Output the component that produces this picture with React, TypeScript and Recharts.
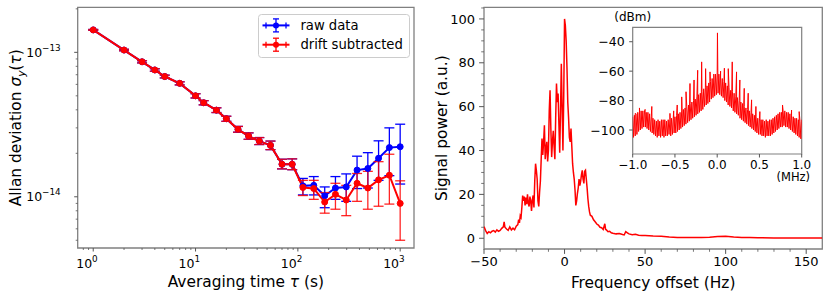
import React from 'react';
import { LineChart, Line, XAxis, YAxis, ErrorBar, ReferenceArea, CartesianGrid, Legend, Label } from 'recharts';

const FONT = '"DejaVu Sans", sans-serif';
const BLUE = '#0000ff';
const RED = '#ff0000';
const SPINE = '#808080';
const TICK = '#555555';

// ---------- Left panel: Allan deviation ----------
const tau = [1, 2, 3, 4, 5, 7, 10, 12, 16, 20, 26, 33, 42, 54, 70, 88, 112, 143, 183, 233, 297, 379, 483, 615, 784, 1000];
const rawAdev = [1.43e-13, 1.037e-13, 8.6e-14, 7.55e-14, 6.8e-14, 6.1e-14, 5.0e-14, 4.48e-14, 3.98e-14, 3.47e-14, 2.93e-14, 2.63e-14, 2.43e-14, 2.27e-14, 1.68e-14, 1.68e-14, 1.19e-14, 1.2e-14, 1.016e-14, 1.15e-14, 1.17e-14, 1.53e-14, 1.57e-14, 1.85e-14, 2.19e-14, 2.22e-14];
const rawLo = [1.42e-13, 1.025e-13, 8.45e-14, 7.4e-14, 6.65e-14, 5.95e-14, 4.83e-14, 4.33e-14, 3.83e-14, 3.33e-14, 2.8e-14, 2.5e-14, 2.3e-14, 2.12e-14, 1.56e-14, 1.54e-14, 1.03e-14, 1.03e-14, 8.4e-15, 9.6e-15, 9.3e-15, 1.14e-14, 1.15e-14, 1.3e-14, 1.4e-14, 1.225e-14];
const rawHi = [1.44e-13, 1.05e-13, 8.75e-14, 7.7e-14, 6.95e-14, 6.25e-14, 5.17e-14, 4.63e-14, 4.13e-14, 3.61e-14, 3.07e-14, 2.77e-14, 2.57e-14, 2.43e-14, 1.82e-14, 1.83e-14, 1.34e-14, 1.38e-14, 1.17e-14, 1.38e-14, 1.44e-14, 1.91e-14, 2.02e-14, 2.44e-14, 3.0e-14, 3.18e-14];
const driftAdev = [1.43e-13, 1.037e-13, 8.6e-14, 7.55e-14, 6.8e-14, 6.1e-14, 5.0e-14, 4.48e-14, 3.98e-14, 3.47e-14, 2.93e-14, 2.63e-14, 2.43e-14, 2.27e-14, 1.68e-14, 1.68e-14, 1.16e-14, 1.14e-14, 9.2e-15, 1.04e-14, 9.5e-15, 1.24e-14, 1.15e-14, 1.31e-14, 1.41e-14, 9.0e-15];
const driftLo = [1.42e-13, 1.025e-13, 8.45e-14, 7.4e-14, 6.65e-14, 5.95e-14, 4.83e-14, 4.33e-14, 3.83e-14, 3.33e-14, 2.8e-14, 2.5e-14, 2.3e-14, 2.12e-14, 1.56e-14, 1.54e-14, 1.02e-14, 9.6e-15, 7.7e-15, 8.2e-15, 7.4e-15, 9.3e-15, 8.2e-15, 8.6e-15, 8.9e-15, 5.0e-15];
const driftHi = [1.44e-13, 1.05e-13, 8.75e-14, 7.7e-14, 6.95e-14, 6.25e-14, 5.17e-14, 4.63e-14, 4.13e-14, 3.61e-14, 3.07e-14, 2.77e-14, 2.57e-14, 2.43e-14, 1.82e-14, 1.83e-14, 1.3e-14, 1.3e-14, 1.07e-14, 1.24e-14, 1.2e-14, 1.45e-14, 1.5e-14, 1.75e-14, 1.97e-14, 1.29e-14];

const allanX = [0.705, 1365];
const allanY = [4.42e-15, 2.05e-13];
const allanXTicks = [0.8, 0.9, 1, 2, 3, 4, 5, 6, 7, 8, 9, 10, 20, 30, 40, 50, 60, 70, 80, 90, 100, 200, 300, 400, 500, 600, 700, 800, 900, 1000];
const allanYTicks = [5e-15, 6e-15, 7e-15, 8e-15, 9e-15, 1e-14, 2e-14, 3e-14, 4e-14, 5e-14, 6e-14, 7e-14, 8e-14, 9e-14, 1e-13, 2e-13];
const legendLabels = ['raw data', 'drift subtracted'];

const allanData = tau.map((t, i) => ({
  tau: t,
  raw: rawAdev[i],
  rawErr: [rawAdev[i] - rawLo[i], rawHi[i] - rawAdev[i]],
  drift: driftAdev[i],
  driftErr: [driftAdev[i] - driftLo[i], driftHi[i] - driftAdev[i]],
}));

// ---------- Right panel: beat note spectrum ----------
const specFreq = [-50, -49, -48, -47, -46, -45, -44, -43, -42, -41, -40, -39, -38, -37.5, -37, -36, -35, -34, -33, -32, -31, -30, -29, -28.5, -28, -27.5, -27, -26.5, -26, -25.5, -25, -24.5, -24, -23.5, -23, -22.5, -22, -21.5, -21, -20.5, -20, -19.5, -19, -18.5, -18, -17.5, -17, -16.5, -16, -15.5, -15, -14.5, -14, -13.5, -13, -12.5, -12, -11.5, -11, -10.5, -10, -9.5, -9, -8.5, -8, -7.5, -7, -6.5, -6, -5.5, -5, -4.5, -4, -3.5, -3, -2.5, -2, -1.5, -1, -0.5, 0, 0.5, 1, 1.5, 2, 2.5, 3, 3.5, 4, 4.5, 5, 5.5, 6, 6.5, 7, 7.5, 8, 8.5, 9, 9.5, 10, 10.5, 11, 11.5, 12, 12.5, 13, 13.5, 14, 14.5, 15, 15.5, 16, 17, 18, 19, 20, 21, 22, 23, 24, 25, 25.5, 26, 27, 28, 29, 30, 32, 34, 36, 37, 38, 39, 40, 42, 44, 46, 48, 50, 55, 60, 65, 70, 75, 80, 85, 90, 95, 100, 105, 110, 115, 120, 130, 140, 150, 160];
const specPower = [5.3, 3.5, 2.2, 3.0, 2.5, 3.2, 3.5, 2.8, 3.8, 3.2, 3.6, 4.5, 5.2, 7.5, 5, 4.2, 3.6, 5.2, 3.8, 4.6, 3.9, 5.5, 6.2, 8.5, 7, 10.3, 9.5, 14, 19.5, 17, 19, 15, 18.5, 15.5, 20, 16, 14.5, 19, 17, 12.5, 17.5, 19.5, 14, 26, 34, 31, 27, 17, 14.5, 21, 26, 36, 45.5, 38, 44, 51.5, 36, 41, 44, 35, 40, 58, 67.5, 50, 37, 44, 49, 42, 36, 55, 70.5, 62, 66, 52, 39, 58, 79.5, 60, 40, 65, 100, 97, 90, 78, 62, 55, 46, 44, 50, 42, 34, 30, 27, 22, 15, 17, 20.5, 23, 27, 24, 26, 29, 31, 27, 25, 30.5, 31, 27, 23, 18, 14.5, 12, 10.5, 10, 8.4, 7.5, 6.5, 6, 5, 4.8, 4, 6.6, 4, 3.8, 3, 3.2, 2.5, 2.3, 2, 2.2, 1.7, 1.5, 3, 2.5, 2, 1.6, 1.8, 1.4, 1.3, 1.2, 1.0, 0.9, 0.6, 0.4, 0.3, 0.4, 0.3, 0.5, 0.8, 0.9, 0.6, 0.4, 0.3, 0.2, 0.15, 0.1, 0.1, 0.1];
const specX = [-50, 160];
const specY = [-4.9, 105.3];
const specXTicks = [-50, -40, -30, -20, -10, 0, 10, 20, 30, 40, 50, 60, 70, 80, 90, 100, 110, 120, 130, 140, 150];
const specXMajor = [-50, 0, 50, 100, 150];
const specYTicks = [0, 5, 10, 15, 20, 25, 30, 35, 40, 45, 50, 55, 60, 65, 70, 75, 80, 85, 90, 95, 100, 105];
const specYMajor = [0, 20, 40, 60, 80, 100];
const specData = specFreq.map((f, i) => ({ f, p: specPower[i] }));

// ---------- Inset: wide span spectrum (dBm vs MHz) ----------
// upper edge of the noise band at -1.00, -0.98, ..., 1.00 MHz
const insetHigh = [
  -91, -90, -89, -88, -88, -87, -87, -87, -88, -88,
  -89, -91, -92, -93, -94, -93, -94, -93, -93, -93,
  -94, -93, -93, -92, -92, -91, -90, -89, -88, -87,
  -86, -85, -84, -83, -82, -81, -80, -79, -77, -76,
  -75, -74, -72, -71, -70, -68, -67, -65, -64, -62,
  -61, -62, -64, -65, -67, -68, -70, -71, -73, -74,
  -75, -77, -78, -80, -81, -82, -84, -85, -86, -87,
  -88, -89, -90, -91, -92, -92, -93, -93, -94, -93,
  -94, -93, -93, -92, -91, -90, -89, -88, -88, -87,
  -87, -88, -88, -89, -90, -91, -92, -92, -93, -94,
  -93,
];
// lower edge of the noise band at -0.99, -0.97, ..., 0.99 MHz
const insetLow = [
  -105, -104, -103, -101, -100, -99, -98, -98, -99, -100,
  -101, -102, -103, -104, -105, -104, -105, -104, -105, -104,
  -104, -103, -104, -103, -102, -102, -101, -100, -99, -98,
  -97, -96, -95, -94, -93, -92, -91, -90, -89, -88,
  -87, -86, -84, -83, -82, -81, -79, -78, -77, -76,
  -75, -76, -77, -78, -80, -81, -83, -84, -85, -87,
  -88, -89, -90, -92, -93, -94, -95, -96, -97, -98,
  -99, -100, -101, -102, -103, -103, -104, -104, -105, -104,
  -104, -104, -103, -102, -101, -100, -99, -98, -98, -97,
  -98, -98, -99, -100, -101, -102, -103, -104, -105, -106,
];
const spikeFreq = [-0.97, -0.92, -0.853, -0.774, -0.559, -0.515, -0.473, -0.42, -0.369, -0.322, -0.274, -0.231, -0.184, -0.137, -0.085, -0.04, 0.003, 0.04, 0.085, 0.131, 0.178, 0.229, 0.268, 0.32, 0.367, 0.407, 0.458, 0.505, 0.773, 0.88, 0.97];
const spikePeak = [-88.7, -85, -86, -84, -88.7, -87, -83, -77.5, -74, -68.4, -66, -59.4, -53.7, -58.3, -60.5, -62, -34, -60, -58, -58.3, -53.7, -60.5, -66, -71.7, -75, -79.5, -84, -87.5, -83, -86.4, -87.5];
const insetX = [-1, 1];
const insetY = [-116.3, -30.2];
const insetXTicks = [-1, -0.5, 0, 0.5, 1];
const insetYTicks = [-100, -80, -60, -40];

const insetData: { f: number; p: number }[] = [];
insetHigh.forEach((h, i) => {
  const f = -1 + i * 0.02;
  insetData.push({ f, p: h });
  if (i < insetLow.length) insetData.push({ f: f + 0.01, p: insetLow[i] });
});
spikeFreq.forEach((f, i) => insetData.push({ f, p: spikePeak[i] }));
insetData.sort((a, b) => a.f - b.f);

// ---------- tick renderers ----------
const fmtNum = (v: number, digits = 0) => {
  const s = Math.abs(v).toFixed(digits);
  return v < 0 ? '\u2212' + s : s;
};

const isDecade = (v: number) => {
  const lg = Math.log10(v);
  return Math.abs(lg - Math.round(lg)) < 1e-6;
};

const LogTickX = (props: any) => {
  const { x, y, payload } = props;
  const v = payload.value as number;
  const major = isDecade(v);
  const e = Math.round(Math.log10(v));
  return (
    <g>
      <line x1={x} y1={y} x2={x} y2={y + (major ? 3.5 : 2)} stroke={TICK} strokeWidth={major ? 1 : 0.8} />
      {major && (
        <text x={x + 4.5} y={y + 19.7} textAnchor="end" fontFamily={FONT} fontSize={12.5} fill="#000">
          10<tspan dy={-5.5} fontSize={8.8}>{fmtNum(e)}</tspan>
        </text>
      )}
    </g>
  );
};

const LogTickY = (props: any) => {
  const { x, y, payload } = props;
  const v = payload.value as number;
  const major = isDecade(v);
  const e = Math.round(Math.log10(v));
  return (
    <g>
      <line x1={x - (major ? 3.5 : 2)} y1={y} x2={x} y2={y} stroke={TICK} strokeWidth={major ? 1 : 0.8} />
      {major && (
        <text x={x - 17} y={y + 4.5} textAnchor="end" fontFamily={FONT} fontSize={12.5} fill="#000">
          10<tspan dy={-6} fontSize={8.8}>{fmtNum(e)}</tspan>
        </text>
      )}
    </g>
  );
};

const makeTickX = (majors: number[] | null, len: number, minorLen: number, off: number, fs: number, digits: number) => (props: any) => {
  const { x, y, payload } = props;
  const v = payload.value as number;
  const major = majors ? majors.includes(v) : true;
  return (
    <g>
      <line x1={x} y1={y} x2={x} y2={y + (major ? len : minorLen)} stroke={TICK} strokeWidth={major ? 1 : 0.8} />
      {major && (
        <text x={x} y={y + off} textAnchor="middle" fontFamily={FONT} fontSize={fs} fill="#000">
          {fmtNum(v, digits)}
        </text>
      )}
    </g>
  );
};

const makeTickY = (majors: number[] | null, len: number, minorLen: number, off: number, fs: number, digits: number) => (props: any) => {
  const { x, y, payload } = props;
  const v = payload.value as number;
  const major = majors ? majors.includes(v) : true;
  return (
    <g>
      <line x1={x - (major ? len : minorLen)} y1={y} x2={x} y2={y} stroke={TICK} strokeWidth={major ? 1 : 0.8} />
      {major && (
        <text x={x - off} y={y + fs * 0.36} textAnchor="end" fontFamily={FONT} fontSize={fs} fill="#000">
          {fmtNum(v, digits)}
        </text>
      )}
    </g>
  );
};

const specTickX = makeTickX(specXMajor, 4.9, 2.8, 16.7, 13, 0);
const specTickY = makeTickY(specYMajor, 4.9, 2.8, 9, 13, 0);
const insetTickX = makeTickX(null, 3.5, 2, 14.5, 12, 1);
const insetTickY = makeTickY(null, 3.5, 2, 8, 12.5, 0);

// ---------- legend ----------
const legendColors = [BLUE, RED];
const renderLegend = () => (
  <svg width={152} height={44} style={{ display: 'block' }}>
    <rect x={0.5} y={0.5} width={151} height={43} rx={3} ry={3} fill="rgba(255,255,255,0.8)" stroke="#cccccc" strokeWidth={1} />
    {legendLabels.map((lab, i) => {
      const cy = 11.4 + i * 19.3;
      const cx = 18;
      const c = legendColors[i];
      return (
        <g key={lab}>
          <line x1={cx - 13.5} y1={cy} x2={cx + 13.5} y2={cy} stroke={c} strokeWidth={2} />
          <line x1={cx - 10} y1={cy - 3} x2={cx - 10} y2={cy + 3} stroke={c} strokeWidth={1.3} />
          <line x1={cx + 10} y1={cy - 3} x2={cx + 10} y2={cy + 3} stroke={c} strokeWidth={1.3} />
          <line x1={cx} y1={cy - 6.5} x2={cx} y2={cy + 6.5} stroke={c} strokeWidth={1.3} />
          <line x1={cx - 3} y1={cy - 6.5} x2={cx + 3} y2={cy - 6.5} stroke={c} strokeWidth={1.3} />
          <line x1={cx - 3} y1={cy + 6.5} x2={cx + 3} y2={cy + 6.5} stroke={c} strokeWidth={1.3} />
          <circle cx={cx} cy={cy} r={3} fill={c} />
          <text x={42.4} y={cy + 4.6} fontFamily={FONT} fontSize={13.2} fill="#000">{lab}</text>
        </g>
      );
    })}
  </svg>
);

export default function App() {
  return (
    <div style={{ position: 'fixed', left: 0, top: 0, width: 830, height: 301, background: '#ffffff', fontFamily: FONT, overflow: 'hidden' }}>
      {/* Left: Allan deviation */}
      <div style={{ position: 'absolute', left: 0, top: 0 }}>
        <LineChart width={416} height={301} data={allanData} margin={{ top: 7.3, right: 2, bottom: 0, left: 0 }}>
          <XAxis dataKey="tau" type="number" scale="log" domain={allanX} allowDataOverflow ticks={allanXTicks} interval={0}
            tick={(p: any) => <LogTickX {...p} />} tickLine={false} axisLine={false} tickSize={0} tickMargin={0} height={53}>
            <Label content={(p: any) => {
              const vb = p.viewBox || { x: 77.7, y: 248, width: 336.3, height: 53 };
              return (
                <text x={vb.x + vb.width / 2} y={vb.y + 38.5} textAnchor="middle" fontFamily={FONT} fontSize={15.4} fill="#000">
                  Averaging time <tspan fontStyle="italic">τ</tspan> (s)
                </text>
              );
            }} />
          </XAxis>
          <YAxis type="number" scale="log" domain={allanY} allowDataOverflow ticks={allanYTicks} interval={0}
            tick={(p: any) => <LogTickY {...p} />} tickLine={false} axisLine={false} tickSize={0} tickMargin={0} width={77.7}>
            <Label content={(p: any) => {
              const vb = p.viewBox || { x: 0, y: 7.3, width: 77.7, height: 240.7 };
              const cx = vb.x + 21.5;
              const cy = vb.y + vb.height / 2;
              return (
                <text x={cx} y={cy} transform={`rotate(-90 ${cx} ${cy})`} textAnchor="middle" fontFamily={FONT} fontSize={15.4} fill="#000">
                  Allan deviation <tspan fontStyle="italic">σ</tspan><tspan fontStyle="italic" fontSize={10.8} dy={3.5}>y</tspan><tspan dy={-3.5}>(</tspan><tspan fontStyle="italic">τ</tspan>)
                </text>
              );
            }} />
          </YAxis>
          <Line dataKey="raw" stroke={BLUE} strokeWidth={2} dot={{ r: 3, fill: BLUE, stroke: BLUE, strokeWidth: 1 }} isAnimationActive={false}>
            <ErrorBar dataKey="rawErr" width={5} stroke={BLUE} strokeWidth={1.3} direction="y" isAnimationActive={false} />
          </Line>
          <Line dataKey="drift" stroke={RED} strokeWidth={2} dot={{ r: 3, fill: RED, stroke: RED, strokeWidth: 1 }} isAnimationActive={false}>
            <ErrorBar dataKey="driftErr" width={5} stroke={RED} strokeOpacity={0.85} strokeWidth={1.3} direction="y" isAnimationActive={false} />
          </Line>
          <ReferenceArea x1={allanX[0]} x2={allanX[1]} y1={allanY[0]} y2={allanY[1]} fill="none" stroke={SPINE} strokeWidth={1.3} ifOverflow="visible" />
          <Legend layout="vertical" align="center" verticalAlign="middle" content={renderLegend}
            wrapperStyle={{ position: 'absolute', left: 258, top: 14, width: 152, height: 44 }} />
        </LineChart>
      </div>

      {/* Right: spectrum */}
      <div style={{ position: 'absolute', left: 415, top: 0 }}>
        <LineChart width={415} height={301} data={specData} margin={{ top: 7.3, right: 7.7, bottom: 0, left: 0 }}>
          <XAxis dataKey="f" type="number" domain={specX} allowDataOverflow ticks={specXTicks} interval={0}
            tick={specTickX} tickLine={false} axisLine={false} tickSize={0} tickMargin={0} height={52}>
            <Label content={(p: any) => {
              const vb = p.viewBox || { x: 69, y: 249, width: 338.3, height: 52 };
              return (
                <text x={vb.x + vb.width / 2} y={vb.y + 39} textAnchor="middle" fontFamily={FONT} fontSize={15.4} fill="#000">
                  Frequency offset (Hz)
                </text>
              );
            }} />
          </XAxis>
          <YAxis type="number" domain={specY} allowDataOverflow ticks={specYTicks} interval={0}
            tick={specTickY} tickLine={false} axisLine={false} tickSize={0} tickMargin={0} width={69}>
            <Label content={(p: any) => {
              const vb = p.viewBox || { x: 0, y: 7.3, width: 69, height: 241.7 };
              const cx = vb.x + 32.5;
              const cy = vb.y + vb.height / 2;
              return (
                <text x={cx} y={cy} transform={`rotate(-90 ${cx} ${cy})`} textAnchor="middle" fontFamily={FONT} fontSize={15.4} fill="#000">
                  Signal power (a.u.)
                </text>
              );
            }} />
          </YAxis>
          <Line dataKey="p" stroke={RED} strokeWidth={1.5} dot={false} isAnimationActive={false} />
          <ReferenceArea x1={specX[0]} x2={specX[1]} y1={specY[0]} y2={specY[1]} fill="none" stroke={SPINE} strokeWidth={1.3} ifOverflow="visible" />
        </LineChart>
      </div>

      {/* Inset */}
      <div style={{ position: 'absolute', left: 580, top: 0 }}>
        <LineChart width={240} height={192} data={insetData} margin={{ top: 27.3, right: 18.3, bottom: 0, left: 0 }}>
          <CartesianGrid horizontal={false} vertical={false} fill="#ffffff" fillOpacity={1} />
          <XAxis dataKey="f" type="number" domain={insetX} allowDataOverflow ticks={insetXTicks} interval={0}
            tick={insetTickX} tickLine={false} axisLine={false} tickSize={0} tickMargin={0} height={38}>
            <Label content={(p: any) => {
              const vb = p.viewBox || { x: 52.7, y: 154, width: 169, height: 38 };
              return (
                <text x={vb.x + vb.width - 8.4} y={vb.y + 27} textAnchor="middle" fontFamily={FONT} fontSize={11.5} fill="#000">
                  (MHz)
                </text>
              );
            }} />
          </XAxis>
          <YAxis type="number" domain={insetY} allowDataOverflow ticks={insetYTicks} interval={0}
            tick={insetTickY} tickLine={false} axisLine={false} tickSize={0} tickMargin={0} width={52.7}>
            <Label content={(p: any) => {
              const vb = p.viewBox || { x: 0, y: 27.3, width: 52.7, height: 126.7 };
              return (
                <text x={vb.x + vb.width} y={vb.y - 6} textAnchor="middle" fontFamily={FONT} fontSize={12} fill="#000">
                  (dBm)
                </text>
              );
            }} />
          </YAxis>
          <Line dataKey="p" stroke={RED} strokeWidth={1} dot={false} isAnimationActive={false} />
          <ReferenceArea x1={insetX[0]} x2={insetX[1]} y1={insetY[0]} y2={insetY[1]} fill="none" stroke={SPINE} strokeWidth={1.2} ifOverflow="visible" />
        </LineChart>
      </div>
    </div>
  );
}
